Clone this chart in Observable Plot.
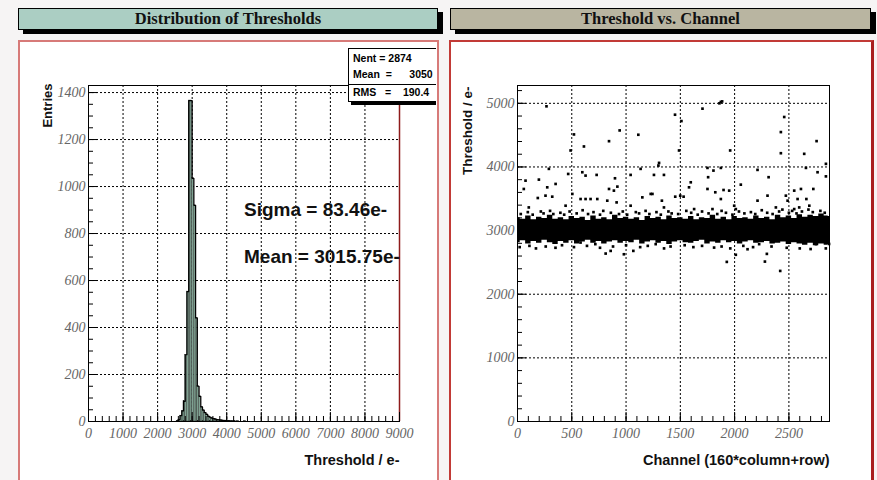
<!DOCTYPE html>
<html>
<head>
<meta charset="utf-8">
<script src="https://cdn.jsdelivr.net/npm/d3@7"></script>
<script src="https://cdn.jsdelivr.net/npm/@observablehq/plot@0.6"></script>
<style>
  body { margin: 0; background: #f6f4f4; }
  #page { position: relative; width: 877px; height: 480px; overflow: hidden; background: #f6f4f4; }
  .bar { position: absolute; height: 20px; border: 1px solid #000; box-shadow: 5px 4px 0 #000;
         font: bold 16.5px "Liberation Serif", serif; color: #111; text-align: center; line-height: 20px; }
  .panel { position: absolute; top: 40px; height: 446px; background: #fff; box-sizing: border-box; }
  .plotwrap { position: absolute; top: 40px; }
  #stats { position: absolute; left: 348px; top: 48px; width: 120px; height: 52px; background: #fff;
           border: 1px solid #000; box-shadow: 3px 3px 0 #000; font: bold 10.5px "Liberation Sans", Arial, sans-serif; }
  #stats div { position: absolute; left: 4px; white-space: pre; }
  #statsclip { position: absolute; left: 0; top: 0; width: 436px; height: 480px; overflow: hidden; pointer-events: none; }
</style>
</head>
<body>
<div id="page">
  <div class="bar" style="left:18px; top:8px; width:418px; background:#abcec3;">Distribution of Thresholds</div>
  <div class="bar" style="left:450px; top:8px; width:419px; background:#b9b5a1;">Threshold vs. Channel</div>
  <div class="panel" style="left:18px; width:421px; border:2px solid #d77a78;"></div>
  <div class="panel" style="left:449px; width:425px; border:2px solid #c23a36; border-right:3px solid #a82020;"></div>
  <div class="plotwrap" id="left" style="left:18px;"></div>
  <div class="plotwrap" id="right" style="left:449px;"></div>
  <div id="statsclip">
    <div id="stats">
      <div style="top:3px">Nent = 2874</div>
      <div style="top:19px">Mean  =      3050</div>
      <div style="top:37px">RMS   =    190.4</div>
      <div style="left:0; top:35px; width:120px; height:0; border-top:1px solid #000;"></div>
    </div>
  </div>
</div>
<script>
// ---------- Left: histogram data (bin lower edges, e-, width 50) ----------
const histBinStart = [2550,2600,2650,2700,2750,2800,2850,2900,2950,3000,3050,3100,3150,3200,3250,3300,3350,3400,3450,3500,3550,3600,3650,3700,3750,3800,3850,3900,3950,4000,4050,4100,4150,4200,4250,4300,4350,4400,4450,4500];
const histCount    = [3,8,25,45,86,284,553,1366,1366,1035,920,441,150,107,62,48,38,30,22,18,14,12,10,8,7,6,5,4,4,3,3,2,2,2,0,1,0,0,0,1];
const histBinWidth = 50;
const histXTicks = [0,1000,2000,3000,4000,5000,6000,7000,8000,9000];
const histYTicks = [0,200,400,600,800,1000,1200,1400];
const histXMinor = d3.range(0, 9001, 200);
const histYMinor = d3.range(0, 1431, 50);
const histXDomain = [0, 9000];
const histYDomain = [0, 1430];
const fitLabels = ["Sigma = 83.46e-", "Mean = 3015.75e-"];
const fitLabelX = [4500, 4500];
const fitLabelY = [900, 700];

// ---------- Right: threshold vs channel ----------
// dense band edges, read at every 50 channels
const bandCh = [0,50,100,150,200,250,300,350,400,450,500,550,600,650,700,750,800,850,900,950,1000,1050,1100,1150,1200,1250,1300,1350,1400,1450,1500,1550,1600,1650,1700,1750,1800,1850,1900,1950,2000,2050,2100,2150,2200,2250,2300,2350,2400,2450,2500,2550,2600,2650,2700,2750,2800,2850,2874];
const bandHi = [3200,3180,3230,3170,3210,3190,3240,3180,3200,3170,3220,3190,3210,3160,3230,3180,3200,3170,3240,3190,3210,3180,3200,3160,3220,3190,3210,3170,3230,3190,3200,3180,3220,3170,3200,3190,3240,3180,3210,3170,3220,3190,3200,3180,3230,3190,3210,3170,3240,3200,3230,3190,3250,3210,3240,3220,3260,3230,3220];
const bandLo = [2810,2840,2790,2830,2800,2850,2810,2780,2830,2800,2840,2790,2820,2850,2800,2830,2790,2820,2840,2800,2830,2810,2850,2790,2820,2840,2800,2830,2780,2820,2840,2810,2800,2830,2850,2790,2820,2800,2840,2810,2830,2790,2820,2840,2800,2810,2830,2790,2800,2820,2780,2810,2790,2770,2800,2760,2790,2770,2780];
// scattered channels (channel, threshold)
const outCh = [267,520,489,612,843,941,1113,1873,1860,1885,1704,1451,1510,2457,2426,2755,1488,1959,2426,2641,
  289,74,197,58,274,351,467,597,627,729,898,843,888,920,1042,1134,1257,1298,1349,1304,2841,1750,1805,1873,2211,2657,2764,2841,2313,1756,1596,2057,1580,1750,1822,1898,1950,2611,2725,2549,
  187,258,320,104,443,505,581,627,673,735,827,913,1150,1227,1330,1042,2303,2472,2580,2661,2488,2211,1873,1499,1530,1453,1243,1349,1627,1796,1996,2011,2380,2549,2595,2688,
  812,858,980,1067,717,581,1811,2119,2226,1273,1928,2279,2420,2749,2870,2011,2297,
  30,95,140,215,240,300,330,395,430,480,545,600,650,700,760,790,860,935,970,1010,1090,1120,1180,1215,1280,1320,1390,1420,1480,1555,1600,1660,1700,1760,1840,1880,1920,1980,2040,2090,2150,2190,2250,2300,2350,2410,2440,2500,2530,2570,2620,2680,2720,2790,2830,
  20,110,170,260,350,410,520,640,760,880,1000,1130,1200,1350,1410,1540,1620,1700,1880,1960,2080,2170,2340,2480,2600,2700,2840];
const outVal = [4953,4511,4259,4322,4405,4574,4506,5021,5000,5030,4916,4821,4721,4785,4548,4406,4259,4259,4216,4206,
  3970,3785,3801,3654,3680,3733,3890,3917,3864,3875,3822,3654,3628,3691,3875,3970,3875,4022,3875,4064,4049,3985,3943,3985,3954,3985,3917,3852,3839,3839,3759,3722,3680,3654,3602,3638,3628,3654,3654,3628,
  3512,3549,3533,3364,3391,3576,3496,3496,3496,3496,3470,3443,3522,3576,3470,3391,3549,3549,3496,3496,3470,3470,3496,3549,3533,3533,3576,3364,3338,3338,3391,3338,3364,3338,3364,3391,
  2639,2681,2628,2681,2787,2812,2733,2707,2787,2787,2508,2513,2366,2787,2790,2620,2634,
  3260,3290,3250,3300,3270,3310,3260,3280,3250,3300,3270,3320,3260,3290,3250,3310,3280,3260,3300,3250,3290,3270,3310,3260,3290,3250,3300,3270,3260,3310,3280,3250,3300,3270,3260,3310,3280,3250,3300,3270,3290,3260,3320,3280,3260,3300,3330,3280,3310,3270,3300,3330,3290,3310,3280,
  2740,2760,2720,2750,2730,2770,2740,2760,2730,2750,2770,2740,2760,2720,2750,2770,2740,2760,2750,2720,2760,2740,2750,2730,2720,2710,2720];
const chXTicks = [0,500,1000,1500,2000,2500];
const chYTicks = [0,1000,2000,3000,4000,5000];
const chXMinor = d3.range(0, 2875, 100);
const chYMinor = d3.range(0, 5281, 200);
const chXDomain = [0, 2874];
const chYDomain = [0, 5280];

const hist = histBinStart.map((x1, i) => ({x1, x2: x1 + histBinWidth, y: histCount[i]}));
const outline = [{x: histBinStart[0], y: 0}, ...hist.map(d => ({x: d.x1, y: d.y})),
                 {x: hist[hist.length - 1].x2, y: 0}];
const band = bandCh.map((c, i) => ({c, lo: bandLo[i], hi: bandHi[i]}));
const pts = outCh.map((c, i) => ({c, v: outVal[i]}));
const fits = fitLabels.map((t, i) => ({t, x: fitLabelX[i], y: fitLabelY[i]}));

const tickFont = {fontFamily: "Liberation Serif, serif", fontStyle: "italic", fontSize: 14, fill: "#666"};
const labelFont = {fontFamily: "Liberation Sans, Arial, sans-serif", fontWeight: "bold", fill: "#111"};

function ticksMarks(W, H, m, xMaj, xMin, yMaj, yMin) {
  const fw = W - m.left - m.right, fh = H - m.top - m.bottom;
  return [
    Plot.tickX(xMaj, {x: d => d, insetTop: fh - 9, stroke: "#000"}),
    Plot.tickX(xMin, {x: d => d, insetTop: fh - 5, stroke: "#000"}),
    Plot.tickY(yMaj, {y: d => d, insetRight: fw - 9, stroke: "#000"}),
    Plot.tickY(yMin, {y: d => d, insetRight: fw - 5, stroke: "#000"})
  ];
}

// ---- left plot ----
{
  const W = 420, H = 440, m = {left: 70, right: 39, top: 45, bottom: 59};
  const p = Plot.plot({
    width: W, height: H, marginLeft: m.left, marginRight: m.right, marginTop: m.top, marginBottom: m.bottom,
    style: {background: "transparent", overflow: "visible"},
    x: {domain: histXDomain},
    y: {domain: histYDomain},
    marks: [
      Plot.gridX(histXTicks, {stroke: "#000", strokeOpacity: 1, strokeDasharray: "2,2"}),
      Plot.gridY(histYTicks, {stroke: "#000", strokeOpacity: 1, strokeDasharray: "2,2"}),
      Plot.rectY(hist, {x1: "x1", x2: "x2", y: "y", fill: "#7fa292", stroke: "#1a1a1a", strokeWidth: 0.35}),
      Plot.lineY(outline, {x: "x", y: "y", curve: "step-after", stroke: "#000", strokeWidth: 1.2}),
      Plot.frame({stroke: "#000"}),
      Plot.ruleX([histXDomain[1]], {stroke: "#8e1b1b", strokeWidth: 1.5}),
      ...ticksMarks(W, H, m, histXTicks, histXMinor, histYTicks, histYMinor),
      Plot.axisX(histXTicks, {tickSize: 0, tickPadding: 7, ...tickFont, tickFormat: d => String(d), label: null}),
      Plot.axisY(histYTicks, {tickSize: 0, tickPadding: 3, ...tickFont, tickFormat: d => String(d), label: null}),
      Plot.text(fits, {x: "x", y: "y", text: "t", textAnchor: "start", fontFamily: "Liberation Sans, Arial, sans-serif", fontWeight: "bold", fontSize: 19, fill: "#111"}),
      Plot.text(["Entries"], {frameAnchor: "top-left", rotate: -90, textAnchor: "end", dx: -46, dy: -2, fontSize: 13, ...labelFont}),
      Plot.text(["Threshold / e-"], {frameAnchor: "bottom-right", textAnchor: "end", dy: 43, fontSize: 14.5, ...labelFont})
    ]
  });
  document.getElementById("left").appendChild(p);
}

// ---- right plot ----
{
  const W = 424, H = 440, m = {left: 68, right: 44, top: 45, bottom: 59};
  const p = Plot.plot({
    width: W, height: H, marginLeft: m.left, marginRight: m.right, marginTop: m.top, marginBottom: m.bottom,
    style: {background: "transparent", overflow: "visible"},
    x: {domain: chXDomain},
    y: {domain: chYDomain},
    marks: [
      Plot.gridX(chXTicks, {stroke: "#000", strokeOpacity: 1, strokeDasharray: "2,2"}),
      Plot.gridY(chYTicks, {stroke: "#000", strokeOpacity: 1, strokeDasharray: "2,2"}),
      Plot.areaY(band, {x: "c", y1: "lo", y2: "hi", fill: "#000", curve: "step"}),
      Plot.dot(pts, {x: "c", y: "v", symbol: "square", r: 1.5, fill: "#000"}),
      Plot.frame({stroke: "#000"}),
      ...ticksMarks(W, H, m, chXTicks, chXMinor, chYTicks, chYMinor),
      Plot.axisX(chXTicks, {tickSize: 0, tickPadding: 7, ...tickFont, tickFormat: d => String(d), label: null}),
      Plot.axisY(chYTicks, {tickSize: 0, tickPadding: 3, ...tickFont, tickFormat: d => String(d), label: null}),
      Plot.text(["Threshold / e-"], {frameAnchor: "top-left", rotate: -90, textAnchor: "end", dx: -55, dy: 1, fontSize: 13.5, ...labelFont}),
      Plot.text(["Channel (160*column+row)"], {frameAnchor: "bottom-right", textAnchor: "end", dy: 43, fontSize: 14.5, ...labelFont})
    ]
  });
  document.getElementById("right").appendChild(p);
}
</script>
</body>
</html>
